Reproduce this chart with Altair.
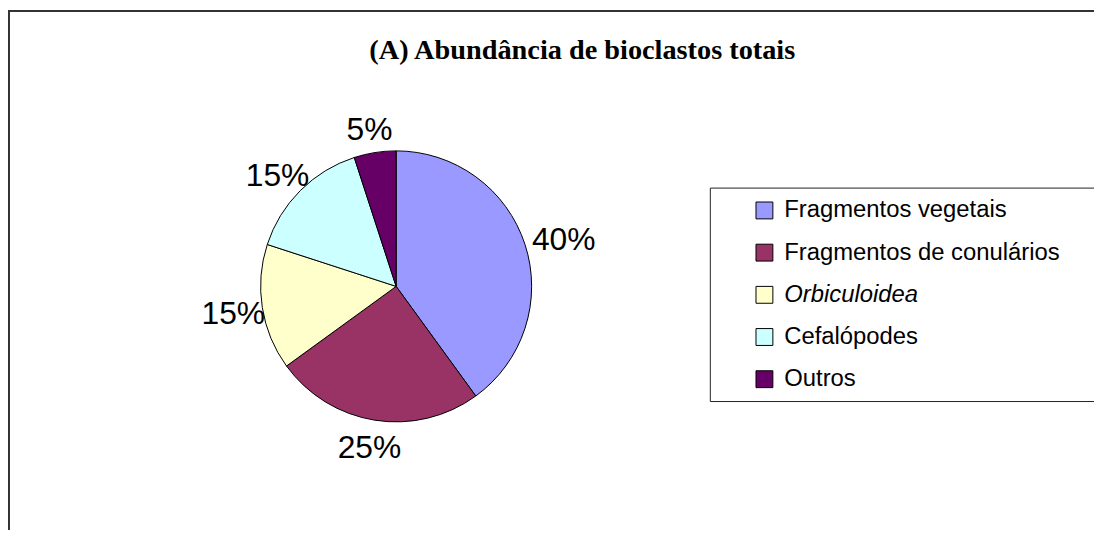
import altair as alt
import pandas as pd

categories = ["Fragmentos vegetais", "Fragmentos de conulários", "Orbiculoidea", "Cefalópodes", "Outros"]
values = [40, 25, 15, 15, 5]
labels = ["40%", "25%", "15%", "15%", "5%"]
colors = ["#9999FF", "#993366", "#FFFFCC", "#CCFFFF", "#660066"]
title_text = "(A) Abundância de bioclastos totais"

df = pd.DataFrame({
    "cat": categories,
    "val": values,
    "label": labels,
    "idx": list(range(len(categories))),
})

W, H = 1094, 524
CX, CY = 391, 278.5
one = alt.Data(values=[{}])

top_rule = alt.Chart(one).mark_rule(color="#333333", strokeWidth=2).encode(
    x=alt.value(0), x2=alt.value(W), y=alt.value(1))
left_rule = alt.Chart(one).mark_rule(color="#333333", strokeWidth=2).encode(
    x=alt.value(1), y=alt.value(0), y2=alt.value(H))

legend_box = alt.Chart(one).mark_rect(fill="white", stroke="#222222", strokeWidth=1).encode(
    x=alt.value(707.5), x2=alt.value(1120), y=alt.value(179.5), y2=alt.value(394.5))

title = alt.Chart(one).mark_text(
    text=title_text, font="Liberation Serif", fontSize=28.5, fontWeight="bold",
    align="center", baseline="alphabetic", color="black"
).encode(x=alt.value(578.5), y=alt.value(49.5))

arc = alt.Chart(df).mark_arc(radius=136.5, stroke="black", strokeWidth=1).encode(
    theta=alt.Theta("val:Q", stack=True),
    order=alt.Order("idx:Q"),
    color=alt.Color(
        "cat:N",
        scale=alt.Scale(domain=categories, range=colors),
        legend=alt.Legend(
            title=None, orient="none", legendX=750, legendY=190,
            symbolType="square", symbolSize=289, symbolStrokeColor="black",
            symbolStrokeWidth=1, symbolOpacity=1,
            labelFont="Liberation Sans", labelFontSize=24, labelColor="black",
            labelOffset=8, rowPadding=18.5, padding=0, labelLimit=0,
            labelFontStyle={"expr": "datum.label == 'Orbiculoidea' ? 'italic' : 'normal'"},
        ),
    ),
    x=alt.value(CX), y=alt.value(CY),
)

mid = "((scale('theta', datum.val_start) + scale('theta', datum.val_end)) / 2)"
text = alt.Chart(df).mark_text(
    radius=162, font="Liberation Sans", fontSize=32, color="black",
    align="center", baseline="middle",
    dx={"expr": f"sin({mid}) * 10 + 6 * pow(abs(sin({mid})), 3)"},
    dy=3,
).encode(
    theta=alt.Theta("val:Q", stack=True),
    order=alt.Order("idx:Q"),
    detail="cat:N",
    text="label:N",
    x=alt.value(CX), y=alt.value(CY),
)

chart = alt.layer(top_rule, left_rule, legend_box, title, arc, text).properties(
    width=W, height=H, autosize="none", padding=0, background="white"
).configure_view(stroke="transparent")

chart.save("out.html", embed_options={"renderer": "svg", "actions": False})
